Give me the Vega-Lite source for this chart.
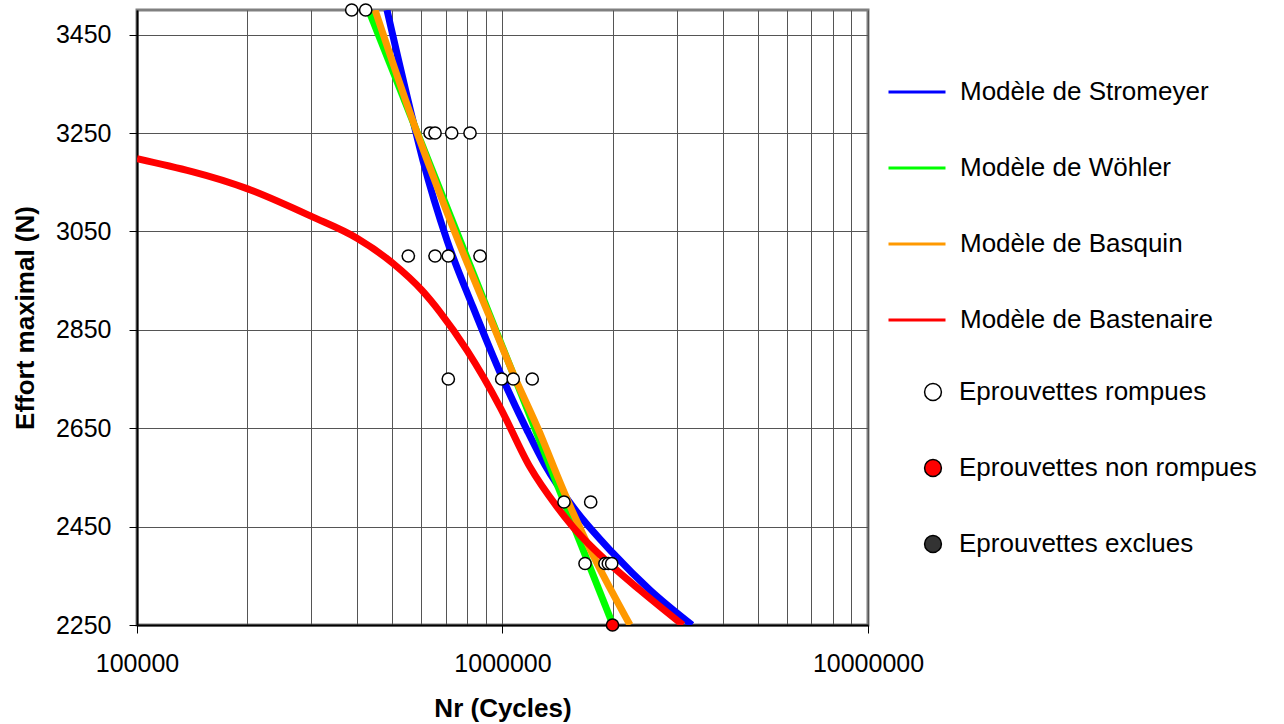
{
  "$schema": "https://vega.github.io/schema/vega-lite/v6.json",
  "width": 731,
  "height": 615,
  "autosize": {"type": "none"},
  "padding": {"left": 137, "top": 10, "right": 416, "bottom": 99},
  "background": "white",
  "config": {
    "font": "Liberation Sans",
    "view": {"stroke": "#808080", "strokeWidth": 3},
    "axis": {"labelFont": "Liberation Sans", "titleFont": "Liberation Sans", "labelColor": "black", "titleColor": "black"},
    "legend": {"labelFont": "Liberation Sans", "labelColor": "black", "labelLimit": 0}
  },
  "datasets": {
    "curves": [
      {"model": "Modèle de Stromeyer", "N": 483000, "S": 3500},
      {"model": "Modèle de Stromeyer", "N": 569000, "S": 3275},
      {"model": "Modèle de Stromeyer", "N": 606000, "S": 3194},
      {"model": "Modèle de Stromeyer", "N": 705000, "S": 3032},
      {"model": "Modèle de Stromeyer", "N": 830500, "S": 2896},
      {"model": "Modèle de Stromeyer", "N": 997000, "S": 2754},
      {"model": "Modèle de Stromeyer", "N": 1167000, "S": 2646},
      {"model": "Modèle de Stromeyer", "N": 1307000, "S": 2575},
      {"model": "Modèle de Stromeyer", "N": 1559000, "S": 2490},
      {"model": "Modèle de Stromeyer", "N": 2006000, "S": 2396},
      {"model": "Modèle de Stromeyer", "N": 2533000, "S": 2321},
      {"model": "Modèle de Stromeyer", "N": 3300000, "S": 2250},
      {"model": "Modèle de Wöhler", "N": 430000, "S": 3500},
      {"model": "Modèle de Wöhler", "N": 2006000, "S": 2250},
      {"model": "Modèle de Basquin", "N": 448000, "S": 3500},
      {"model": "Modèle de Basquin", "N": 583500, "S": 3251},
      {"model": "Modèle de Basquin", "N": 755500, "S": 3032},
      {"model": "Modèle de Basquin", "N": 924000, "S": 2875},
      {"model": "Modèle de Basquin", "N": 1068000, "S": 2762},
      {"model": "Modèle de Basquin", "N": 1266000, "S": 2640},
      {"model": "Modèle de Basquin", "N": 1374000, "S": 2575},
      {"model": "Modèle de Basquin", "N": 1530000, "S": 2492},
      {"model": "Modèle de Basquin", "N": 2233000, "S": 2250},
      {"model": "Modèle de Bastenaire", "N": 100000, "S": 3198},
      {"model": "Modèle de Bastenaire", "N": 200000, "S": 3137},
      {"model": "Modèle de Bastenaire", "N": 301000, "S": 3080},
      {"model": "Modèle de Bastenaire", "N": 400000, "S": 3036},
      {"model": "Modèle de Bastenaire", "N": 501600, "S": 2985},
      {"model": "Modèle de Bastenaire", "N": 602300, "S": 2930},
      {"model": "Modèle de Bastenaire", "N": 674500, "S": 2886},
      {"model": "Modèle de Bastenaire", "N": 799800, "S": 2808},
      {"model": "Modèle de Bastenaire", "N": 984500, "S": 2693},
      {"model": "Modèle de Bastenaire", "N": 1189000, "S": 2571},
      {"model": "Modèle de Bastenaire", "N": 1410000, "S": 2490},
      {"model": "Modèle de Bastenaire", "N": 1559000, "S": 2449},
      {"model": "Modèle de Bastenaire", "N": 2006000, "S": 2368},
      {"model": "Modèle de Bastenaire", "N": 2378000, "S": 2321},
      {"model": "Modèle de Bastenaire", "N": 3117000, "S": 2250}
    ],
    "points": [
      {"type": "Eprouvettes rompues", "N": 386800, "S": 3500},
      {"type": "Eprouvettes rompues", "N": 422400, "S": 3500},
      {"type": "Eprouvettes rompues", "N": 633600, "S": 3250},
      {"type": "Eprouvettes rompues", "N": 653800, "S": 3250},
      {"type": "Eprouvettes rompues", "N": 726100, "S": 3250},
      {"type": "Eprouvettes rompues", "N": 815000, "S": 3250},
      {"type": "Eprouvettes rompues", "N": 552500, "S": 3000},
      {"type": "Eprouvettes rompues", "N": 653800, "S": 3000},
      {"type": "Eprouvettes rompues", "N": 710800, "S": 3000},
      {"type": "Eprouvettes rompues", "N": 868000, "S": 3000},
      {"type": "Eprouvettes rompues", "N": 710800, "S": 2750},
      {"type": "Eprouvettes rompues", "N": 995000, "S": 2750},
      {"type": "Eprouvettes rompues", "N": 1070000, "S": 2750},
      {"type": "Eprouvettes rompues", "N": 1206000, "S": 2750},
      {"type": "Eprouvettes rompues", "N": 1473000, "S": 2500},
      {"type": "Eprouvettes rompues", "N": 1743000, "S": 2500},
      {"type": "Eprouvettes rompues", "N": 1682000, "S": 2375},
      {"type": "Eprouvettes rompues", "N": 1907000, "S": 2375},
      {"type": "Eprouvettes rompues", "N": 1948000, "S": 2375},
      {"type": "Eprouvettes rompues", "N": 1990000, "S": 2375},
      {"type": "Eprouvettes non rompues", "N": 2000000, "S": 2250}
    ]
  },
  "layer": [
    {
      "data": {"name": "curves"},
      "mark": {"type": "line", "strokeWidth": 7, "clip": true, "strokeJoin": "round", "interpolate": "monotone"},
      "encoding": {
        "x": {
          "field": "N", "type": "quantitative",
          "scale": {"type": "log", "domain": [100000, 10000000]},
          "axis": {
            "title": "Nr (Cycles)",
            "values": [100000, 200000, 300000, 400000, 500000, 600000, 700000, 800000, 900000, 1000000, 2000000, 3000000, 4000000, 5000000, 6000000, 7000000, 8000000, 9000000, 10000000],
            "labelExpr": "(datum.value == 100000 || datum.value == 1000000 || datum.value == 10000000) ? format(datum.value, 'd') : ''",
            "tickOpacity": {"condition": {"test": "datum.value == 100000 || datum.value == 1000000 || datum.value == 10000000", "value": 1}, "value": 0},
            "tickColor": "black", "tickSize": 8, "tickWidth": 1,
            "domainColor": "black", "domainWidth": 2,
            "grid": true, "gridColor": "#555555", "gridWidth": 1,
            "labelFontSize": 25, "labelPadding": 18, "labelFlush": false, "labelOverlap": false,
            "titleFontSize": 26, "titleFontWeight": "bold", "titlePadding": 19
          }
        },
        "y": {
          "field": "S", "type": "quantitative",
          "scale": {"domain": [2250, 3500], "nice": false, "zero": false},
          "axis": {
            "title": "Effort maximal (N)",
            "values": [2250, 2450, 2650, 2850, 3050, 3250, 3450],
            "format": "d",
            "tickColor": "black", "tickSize": 8, "tickWidth": 1,
            "domainColor": "black", "domainWidth": 2,
            "grid": true, "gridColor": "#555555", "gridWidth": 1,
            "labelFontSize": 25, "labelPadding": 18,
            "titleFontSize": 26, "titleFontWeight": "bold", "titlePadding": 17
          }
        },
        "color": {
          "field": "model", "type": "nominal",
          "scale": {
            "domain": ["Modèle de Stromeyer", "Modèle de Wöhler", "Modèle de Basquin", "Modèle de Bastenaire"],
            "range": ["#0000FF", "#00FF00", "#FF9900", "#FF0000"]
          },
          "legend": {
            "title": null, "orient": "none", "legendX": 750, "legendY": 52,
            "padding": 0,
            "symbolType": "stroke", "symbolSize": 3249, "symbolStrokeWidth": 3,
            "labelFontSize": 26, "labelOffset": 13, "rowPadding": 33, "labelLimit": 0
          }
        }
      }
    },
    {
      "data": {"name": "points"},
      "mark": {"type": "point", "shape": "circle", "filled": true, "size": 150, "stroke": "black", "strokeWidth": 1.5, "opacity": 1},
      "encoding": {
        "x": {"field": "N", "type": "quantitative"},
        "y": {"field": "S", "type": "quantitative"},
        "fill": {
          "field": "type", "type": "nominal",
          "scale": {
            "domain": ["Eprouvettes rompues", "Eprouvettes non rompues", "Eprouvettes exclues"],
            "range": ["#FFFFFF", "#FF0000", "#333333"]
          },
          "legend": {
            "title": null, "orient": "none", "legendX": 783, "legendY": 369,
            "padding": 0,
            "symbolType": "circle", "symbolSize": 283,
            "labelFontSize": 26, "labelOffset": 13, "rowPadding": 50, "labelLimit": 0,
            "encode": {"symbols": {"update": {"stroke": {"value": "black"}, "strokeWidth": {"value": 1.5}, "opacity": {"value": 1}}}}
          }
        }
      }
    }
  ]
}
